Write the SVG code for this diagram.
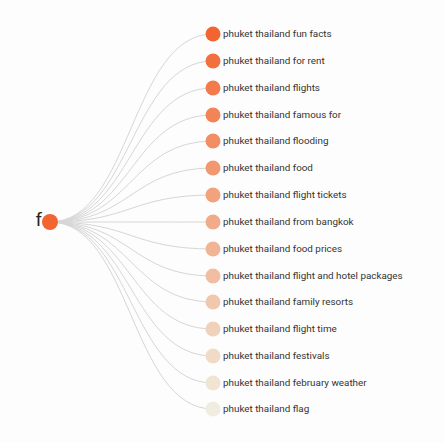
<svg xmlns="http://www.w3.org/2000/svg" width="445" height="443" viewBox="0 0 445 443">
<style>
.link{fill:none;stroke:#d6d6d6;stroke-width:1}
.lbl{font-family:Roboto,"Liberation Sans",sans-serif;font-size:9.85px;fill:#333}
.root{font-family:Roboto,"Liberation Sans",sans-serif;font-size:18.5px;fill:#222}
</style>
<rect width="445" height="443" fill="#fdfdfd"/>
<g id="links">
<path class="link" d="M50,222C131,222 131,34 213,34"/>
<path class="link" d="M50,222C131,222 131,61 213,61"/>
<path class="link" d="M50,222C131,222 131,88 213,88"/>
<path class="link" d="M50,222C131,222 131,115 213,115"/>
<path class="link" d="M50,222C131,222 131,141 213,141"/>
<path class="link" d="M50,222C131,222 131,168 213,168"/>
<path class="link" d="M50,222C131,222 131,195 213,195"/>
<path class="link" d="M50,222C131,222 131,222 213,222"/>
<path class="link" d="M50,222C131,222 131,249 213,249"/>
<path class="link" d="M50,222C131,222 131,276 213,276"/>
<path class="link" d="M50,222C131,222 131,302 213,302"/>
<path class="link" d="M50,222C131,222 131,329 213,329"/>
<path class="link" d="M50,222C131,222 131,356 213,356"/>
<path class="link" d="M50,222C131,222 131,383 213,383"/>
<path class="link" d="M50,222C131,222 131,409 213,409"/>
</g>
<g id="root"><circle cx="50" cy="222" r="8" fill="#f26430"/><text class="root" x="42" y="226" text-anchor="end">f</text></g>
<g id="n1"><circle cx="213" cy="34" r="7.5" fill="#f26532"/><text class="lbl" x="223" y="36.5">phuket thailand fun facts</text></g>
<g id="n2"><circle cx="213" cy="61" r="7.5" fill="#f26f3e"/><text class="lbl" x="223" y="63.5">phuket thailand for rent</text></g>
<g id="n3"><circle cx="213" cy="88" r="7.5" fill="#f27a4b"/><text class="lbl" x="223" y="90.5">phuket thailand flights</text></g>
<g id="n4"><circle cx="213" cy="115" r="7.5" fill="#f28457"/><text class="lbl" x="223" y="117.5">phuket thailand famous for</text></g>
<g id="n5"><circle cx="213" cy="141" r="7.5" fill="#f28e63"/><text class="lbl" x="223" y="143.5">phuket thailand flooding</text></g>
<g id="n6"><circle cx="213" cy="168" r="7.5" fill="#f29870"/><text class="lbl" x="223" y="170.5">phuket thailand food</text></g>
<g id="n7"><circle cx="213" cy="195" r="7.5" fill="#f2a27c"/><text class="lbl" x="223" y="197.5">phuket thailand flight tickets</text></g>
<g id="n8"><circle cx="213" cy="222" r="7.5" fill="#f1ab88"/><text class="lbl" x="223" y="224.5">phuket thailand from bangkok</text></g>
<g id="n9"><circle cx="213" cy="249" r="7.5" fill="#f1b595"/><text class="lbl" x="223" y="251.5">phuket thailand food prices</text></g>
<g id="n10"><circle cx="213" cy="276" r="7.5" fill="#f1bea1"/><text class="lbl" x="223" y="278.5">phuket thailand flight and hotel packages</text></g>
<g id="n11"><circle cx="213" cy="302" r="7.5" fill="#f1c8ad"/><text class="lbl" x="223" y="304.5">phuket thailand family resorts</text></g>
<g id="n12"><circle cx="213" cy="329" r="7.5" fill="#f0d2ba"/><text class="lbl" x="223" y="331.5">phuket thailand flight time</text></g>
<g id="n13"><circle cx="213" cy="356" r="7.5" fill="#f0dbc6"/><text class="lbl" x="223" y="358.5">phuket thailand festivals</text></g>
<g id="n14"><circle cx="213" cy="383" r="7.5" fill="#f0e5d3"/><text class="lbl" x="223" y="385.5">phuket thailand february weather</text></g>
<g id="n15"><circle cx="213" cy="409" r="7.5" fill="#f0ecdf"/><text class="lbl" x="223" y="411.5">phuket thailand flag</text></g>
</svg>
